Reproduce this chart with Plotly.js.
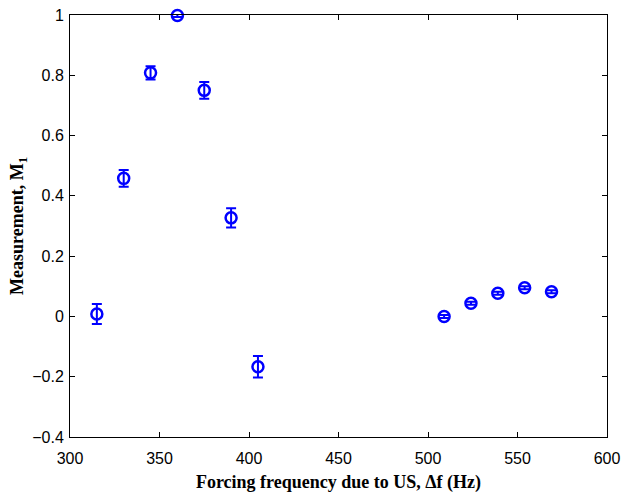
<!DOCTYPE html>
<html>
<head>
<meta charset="utf-8">
<script src="https://cdn.plot.ly/plotly-3.0.1.min.js"></script>
<style>html,body{margin:0;padding:0;background:#fff;}#chart{width:623px;height:494px;}</style>
</head>
<body>
<div id="chart"></div>
<script>
const freq = [315, 330, 345, 360, 375, 390, 405, 509, 524, 539, 554, 569];
const measurement = [0.008, 0.458, 0.808, 0.998, 0.750, 0.327, -0.167, 0.0, 0.044, 0.077, 0.095, 0.082];
const errorVals = [0.033, 0.028, 0.022, 0.005, 0.028, 0.032, 0.036, 0.005, 0.005, 0.005, 0.005, 0.005];
const xTicks = [300, 350, 400, 450, 500, 550, 600];
const yTicks = [-0.4, -0.2, 0, 0.2, 0.4, 0.6, 0.8, 1];

const trace = {
  x: freq, y: measurement, type: 'scatter', mode: 'markers',
  marker: {symbol: 'circle-open', size: 11, color: '#0000ff', line: {width: 2.5, color: '#0000ff'}},
  error_y: {type: 'data', array: errorVals, visible: true, color: '#0000ff', thickness: 2, width: 5},
  cliponaxis: false
};

const axisCommon = {
  showline: true, linecolor: '#000', linewidth: 1, mirror: 'ticks',
  ticks: 'inside', ticklen: 5, tickcolor: '#000', showgrid: false, zeroline: false,
  tickfont: {family: 'Liberation Sans, Arial, sans-serif', size: 16, color: '#000'}
};

const layout = {
  width: 623, height: 494,
  margin: {l: 70, r: 16, t: 15, b: 57},
  paper_bgcolor: '#fff', plot_bgcolor: '#fff',
  showlegend: false,
  xaxis: Object.assign({}, axisCommon, {
    range: [300, 600], tickvals: xTicks, ticklabelstandoff: 7,
    title: {text: '<b>Forcing frequency due to US, Δf (Hz)</b>', font: {family: 'Liberation Serif, Times New Roman, serif', size: 18, color: '#000'}, standoff: 9}
  }),
  yaxis: Object.assign({}, axisCommon, {
    range: [-0.4, 1], tickvals: yTicks, ticklabelstandoff: 2,
    title: {text: '<b>Measurement, M<sub>1</sub></b>', font: {family: 'Liberation Serif, Times New Roman, serif', size: 18, color: '#000'}, standoff: 3}
  })
};

Plotly.newPlot('chart', [trace], layout, {displayModeBar: false, staticPlot: true});
</script>
</body>
</html>
